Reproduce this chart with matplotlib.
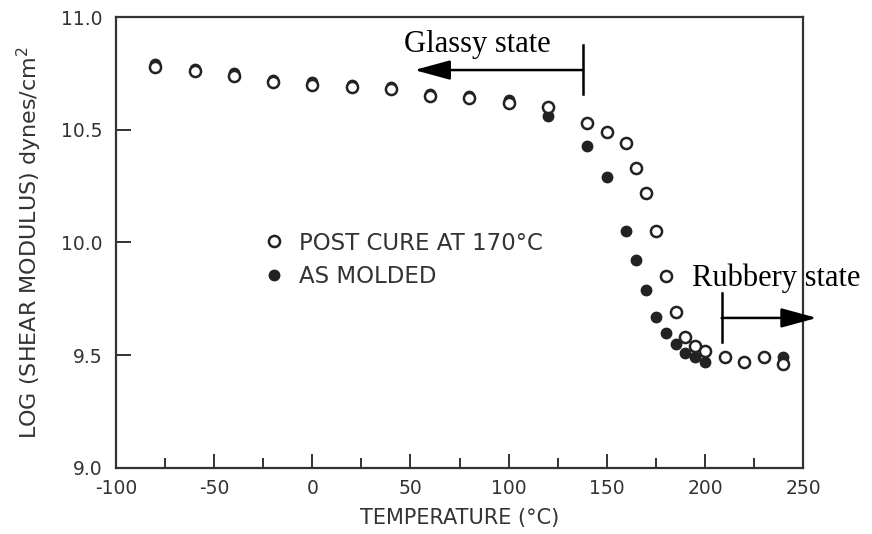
import matplotlib
matplotlib.use("Agg")
import matplotlib.pyplot as plt
from matplotlib.ticker import MultipleLocator, FormatStrFormatter

# shear modulus vs temperature, post-cured and as-molded samples
temp_post = [-80, -60, -40, -20, 0, 20, 40, 60, 80, 100, 120, 140, 150, 160, 165,
             170, 175, 180, 185, 190, 195, 200, 210, 220, 230, 240]
logG_post = [10.78, 10.76, 10.74, 10.71, 10.70, 10.69, 10.68, 10.65, 10.64, 10.62,
             10.60, 10.53, 10.49, 10.44, 10.33, 10.22, 10.05, 9.85, 9.69, 9.58,
             9.54, 9.52, 9.49, 9.47, 9.49, 9.46]

temp_molded = [-80, -60, -40, -20, 0, 20, 40, 60, 80, 100, 120, 140, 150, 160, 165,
               170, 175, 180, 185, 190, 195, 200, 240]
logG_molded = [10.79, 10.77, 10.75, 10.72, 10.71, 10.70, 10.69, 10.66, 10.65, 10.63,
               10.56, 10.43, 10.29, 10.05, 9.92, 9.79, 9.67, 9.60, 9.55, 9.51,
               9.49, 9.47, 9.49]

label_post = "POST CURE AT 170°C"
label_molded = "AS MOLDED"

ink = "#222222"
grey = "#333333"

plt.rcParams["font.family"] = ["DejaVu Sans"]
plt.rcParams["axes.unicode_minus"] = False

fig = plt.figure(figsize=(8.72, 5.34), dpi=100)
ax = fig.add_axes([0.133, 0.124, 0.788, 0.844])

ax.plot(temp_molded, logG_molded, "o", ms=7.5, mfc=ink, mec=ink, mew=1.0,
        ls="none", label=label_molded, zorder=3)
ax.plot(temp_post, logG_post, "o", ms=8, mfc="white", mec=ink, mew=1.8,
        ls="none", label=label_post, zorder=4)

ax.set_xlim(-100, 250)
ax.set_ylim(9.0, 11.0)
ax.xaxis.set_major_locator(MultipleLocator(50))
ax.xaxis.set_minor_locator(MultipleLocator(25))
ax.yaxis.set_major_locator(MultipleLocator(0.5))
ax.yaxis.set_major_formatter(FormatStrFormatter("%.1f"))

ax.tick_params(axis="x", which="major", direction="in", length=10, width=1.4,
               colors=grey, labelsize=13.5, pad=8)
ax.tick_params(axis="x", which="minor", direction="in", length=7, width=1.4, colors=grey)
ax.tick_params(axis="y", which="major", direction="in", length=11, width=1.4,
               colors=grey, labelsize=13.5, pad=10)
for s in ax.spines.values():
    s.set_color(grey)
    s.set_linewidth(1.6)

ax.set_xlabel("TEMPERATURE (°C)", fontsize=15, color=grey, labelpad=7)
ax.set_ylabel("LOG (SHEAR MODULUS) dynes/cm$^2$", fontsize=16, color=grey, labelpad=12)

h, l = ax.get_legend_handles_labels()
ax.legend(h[::-1], l[::-1], loc="upper left", bbox_to_anchor=(0.19, 0.57),
          frameon=False, fontsize=16.5, labelcolor=grey, handlelength=0.6,
          handletextpad=0.8, labelspacing=0.45)

# glassy state arrow
ax.plot([138, 138], [10.66, 10.875], color="black", lw=1.8, clip_on=False)
ax.annotate("", xy=(52, 10.765), xytext=(138, 10.765),
            arrowprops=dict(arrowstyle="-|>,head_length=1.1,head_width=0.3",
                            mutation_scale=20, color="black", lw=1.8,
                            shrinkA=0, shrinkB=0))
ax.text(46.5, 10.88, "Glassy state", family="Liberation Serif", fontsize=22,
        ha="left", va="center", color="black")

# rubbery state arrow
ax.plot([208.5, 208.5], [9.56, 9.775], color="black", lw=1.8, clip_on=False)
ax.annotate("", xy=(257, 9.665), xytext=(208.5, 9.665),
            arrowprops=dict(arrowstyle="-|>,head_length=1.1,head_width=0.3",
                            mutation_scale=20, color="black", lw=1.8,
                            shrinkA=0, shrinkB=0),
            annotation_clip=False)
ax.text(193.5, 9.84, "Rubbery state", family="Liberation Serif", fontsize=22,
        ha="left", va="center", color="black", clip_on=False)

fig.savefig("out.png", dpi=100)
